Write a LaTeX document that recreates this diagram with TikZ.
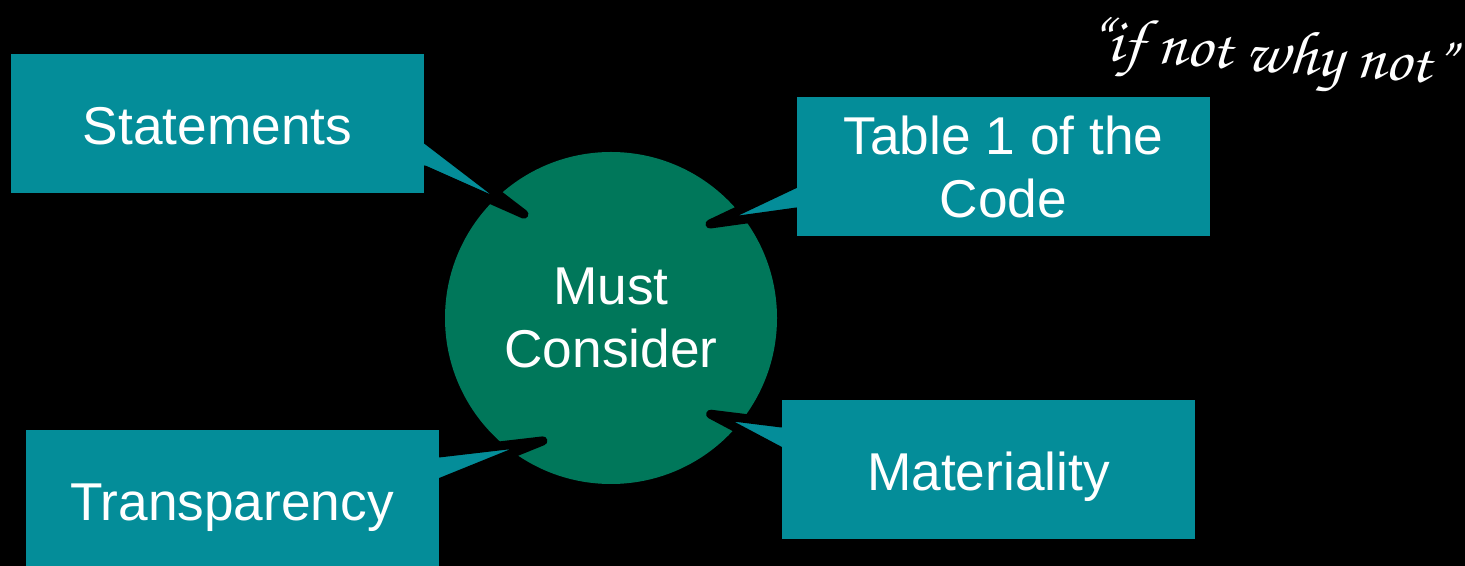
\documentclass[tikz,border=0pt]{standalone}
\usepackage[T1,TU]{fontenc}
\usepackage{fontspec}
\setmainfont{Liberation Sans}
\usetikzlibrary{shapes,positioning,calc,backgrounds}
\definecolor{boxteal}{RGB}{4,141,153}
\definecolor{hubgreen}{RGB}{0,119,90}
\tikzset{
block/.style = {fill=boxteal, rectangle, align=center, text=white, inner sep=0pt, minimum width=8.26cm, minimum height=2.78cm, font=\fontsize{30.3}{36}\selectfont},
oneline/.style = {block, text height=27pt, text depth=3pt},
hub/.style = {fill=hubgreen, circle, align=center, text=white, inner sep=0pt, minimum size=6.64cm, font=\fontsize{30.3}{36}\selectfont},
pointer/.style = {fill=boxteal, draw=black, line width=0.18cm, line join=round},
motto/.style = {text=white, inner sep=0pt, rotate=-4, font=\fontencoding{T1}\fontfamily{pzc}\fontseries{mb}\fontshape{it}\fontsize{36}{40}\selectfont}
}
\begin{document}
\begin{tikzpicture}
\useasboundingbox (0,0) rectangle (29.3,11.32);
\node [oneline] (stm) at (4.35,8.85) {Statements};
\node [block] (tab) at (20.07,7.98) {Table 1 of the\\Code};
\node [oneline] (trn) at (4.64,1.33) {Transparency};
\node [oneline] (mat) at (19.77,1.93) {Materiality};
\node [motto] (quote) at (25.40,10.14) {``if not why not''};
\begin{pgfonlayer}{background}
\fill [black] (0,0) rectangle (29.3,11.32);
\node [hub] (must) at (12.22,4.96) {Must\\Consider};
\coordinate (stmtip) at ($(must.center)+(130:2.71)$);
\coordinate (tabtip) at ($(must.center)+(43.5:2.73)$);
\coordinate (trntip) at ($(must.center)+(241:2.81)$);
\coordinate (mattip) at ($(must.center)+(316:2.77)$);
\path [pointer] ($(stm.east)+(0,-0.29)$) -- (stmtip) -- ($(stm.east)+(0,-0.93)$) -- ++(-0.3,0) -- ++(0,0.64) -- cycle;
\path [pointer] ($(tab.west)+(0,-0.32)$) -- (tabtip) -- ($(tab.west)+(0,-0.90)$) -- ++(0.3,0) -- ++(0,0.58) -- cycle;
\path [pointer] ($(trn.east)+(0,0.93)$) -- (trntip) -- ($(trn.east)+(0,0.33)$) -- ++(-0.3,0) -- ++(0,0.60) -- cycle;
\path [pointer] ($(mat.west)+(0,0.93)$) -- (mattip) -- ($(mat.west)+(0,0.35)$) -- ++(0.3,0) -- ++(0,0.58) -- cycle;
\end{pgfonlayer}
\end{tikzpicture}
\end{document}
